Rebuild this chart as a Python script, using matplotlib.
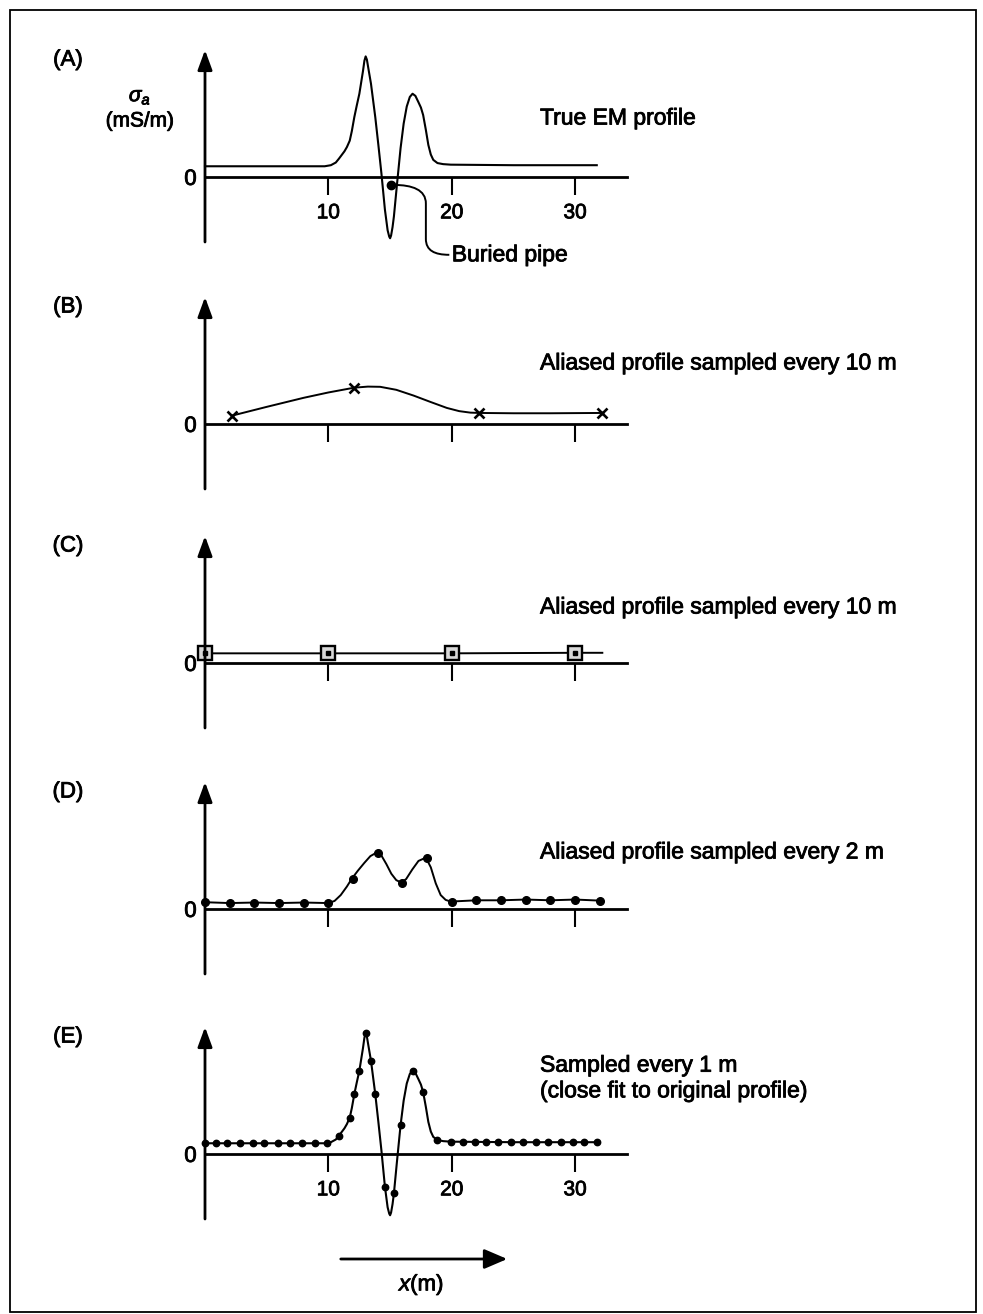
import matplotlib.pyplot as plt
import matplotlib.patheffects as pe
from matplotlib.path import Path
from matplotlib.patches import PathPatch, FancyArrowPatch, Rectangle

plt.rcParams['font.family'] = ['Liberation Sans', 'DejaVu Sans']
plt.rcParams['mathtext.fontset'] = 'custom'
plt.rcParams['mathtext.rm'] = 'Liberation Sans'
plt.rcParams['mathtext.it'] = 'Liberation Sans:italic'

# true EM profile (x in m, sigma_a in arbitrary mS/m units)
true_x = [0, 9.7, 10.2, 10.6, 10.86, 11.3, 11.5, 11.73, 11.9, 12.1, 12.3, 12.51, 12.8, 12.92, 13.02,
          13.12, 13.25, 13.45, 13.8, 14.05, 14.3, 14.58, 14.8, 14.93, 15.0, 15.08, 15.2, 15.31,
          15.55, 15.85, 16.1, 16.35, 16.6, 16.82, 17.05, 17.3, 17.5, 17.68, 17.9, 18.1, 18.3,
          18.5, 18.84, 19.3, 19.92, 25.0, 31.75]
true_y = [1.0, 1.0, 1.1, 1.35, 1.72, 2.4, 2.8, 3.4, 4.3, 5.6, 6.7, 7.8, 9.9, 10.9, 11.3,
          11.0, 10.1, 8.75, 5.6, 3.0, 0.3, -3.06, -5.0, -5.6, -5.75, -5.5, -4.7, -3.7,
          -0.8, 2.7, 5.0, 6.6, 7.5, 7.8, 7.6, 7.0, 6.5, 5.8, 4.4, 3.0, 2.1,
          1.6, 1.3, 1.2, 1.15, 1.1, 1.1]

# (B) samples every 10 m
b_x = [2.2, 12.1, 22.2, 32.2]
b_y = [0.78, 3.4, 1.03, 1.03]
b_curve_x = [2.2, 5.0, 8.0, 10.0, 12.1, 13.2, 14.2, 15.5, 16.9, 18.3, 19.6, 20.6, 21.5, 22.2, 25.0, 28.0, 32.2]
b_curve_y = [0.78, 1.6, 2.45, 2.95, 3.4, 3.5, 3.48, 3.2, 2.66, 2.05, 1.5, 1.2, 1.06, 1.03, 1.0, 1.0, 1.03]

# (C) samples every 10 m, other offset
c_x = [0, 10, 20, 30]
c_y = [0.9, 0.9, 0.9, 0.95]
c_line_x = [0, 10, 20, 30, 32.2]
c_line_y = [0.9, 0.9, 0.9, 0.95, 0.95]

# (D) samples every 2 m
d_x = [0, 2, 4, 6, 8, 10, 12, 14, 16, 18, 20, 22, 24, 26, 28, 30, 32]
d_y = [0.63, 0.55, 0.6, 0.55, 0.6, 0.55, 2.84, 5.28, 2.47, 4.81, 0.69, 0.81, 0.81, 0.88, 0.81, 0.88, 0.78]
d_curve_x = [0, 2, 4, 6, 8, 10, 10.5, 11.0, 11.5, 11.9, 12.4, 12.9, 13.4, 13.9, 14.3, 14.7, 15.1,
             15.5, 15.9, 16.3, 16.8, 17.3, 17.9, 18.3, 18.7, 19.1, 19.5, 19.9, 22, 24, 26, 28, 30, 32]
d_curve_y = [0.63, 0.55, 0.6, 0.55, 0.6, 0.55, 0.75, 1.3, 2.1, 2.84, 3.6, 4.3, 4.95, 5.28, 5.0, 4.2, 3.3,
             2.7, 2.47, 2.8, 3.7, 4.5, 4.81, 3.9, 2.4, 1.3, 0.85, 0.69, 0.81, 0.81, 0.88, 0.81, 0.88, 0.78]

# (E) samples every ~1 m
e_x = [0, 0.9, 1.8, 2.8, 3.9, 4.8, 5.9, 6.9, 7.9, 8.9, 9.9, 10.86, 11.73, 12.1, 12.51, 13.02,
       13.45, 13.8, 14.58, 15.31, 15.85, 16.82, 17.68, 18.84, 19.92, 20.92, 21.86, 22.8, 23.75,
       24.82, 25.77, 26.85, 27.79, 28.87, 29.81, 30.75, 31.75]
e_y = [1.0, 1.0, 1.0, 1.0, 1.0, 1.0, 1.0, 1.0, 1.0, 1.0, 1.0, 1.72, 3.4, 5.6, 7.8, 11.3,
       8.75, 5.6, -3.06, -3.7, 2.7, 7.8, 5.8, 1.3, 1.15, 1.12, 1.1, 1.1, 1.1,
       1.1, 1.1, 1.1, 1.1, 1.1, 1.1, 1.1, 1.1]

pipe_x = 15.1
pipe_y = -0.75

ticks = [10, 20, 30]
panel_labels = ['(A)', '(B)', '(C)', '(D)', '(E)']
captions = ['True EM profile',
            'Aliased profile sampled every 10 m',
            'Aliased profile sampled every 10 m',
            'Aliased profile sampled every 2 m',
            'Sampled every 1 m\n(close fit to original profile)']

W, H = 983, 1314
fig = plt.figure(figsize=(W / 100, H / 100), dpi=100)

X0, XW = 205, 422
YTOP, YBOT = 127, 65
XMAX, YMAX, YMIN = 34.2, 11.9, -6.1
zeros = [177, 424, 663, 909, 1154]
cap_y = [118, 363, 607, 852, 1078]

bold = [pe.withStroke(linewidth=0.6, foreground='black')]


def make_axes(z, labels):
    ax = fig.add_axes([X0 / W, 1 - (z + YBOT) / H, XW / W, (YTOP + YBOT) / H])
    ax.set_xlim(0, XMAX)
    ax.set_ylim(YMIN, YMAX)
    ax.patch.set_visible(False)
    for s in ['top', 'right', 'left']:
        ax.spines[s].set_visible(False)
    ax.spines['bottom'].set_position(('data', 0))
    ax.spines['bottom'].set_linewidth(2.0)
    ax.set_xticks(ticks)
    ax.set_xticklabels([str(t) for t in ticks] if labels else [])
    ax.tick_params(axis='x', direction='out', length=13, width=1.5, pad=6, labelsize=15)
    ax.set_yticks([0])
    ax.set_yticklabels(['0'])
    ax.tick_params(axis='y', length=0, pad=6, labelsize=16)
    for t in ax.get_xticklabels() + ax.get_yticklabels():
        t.set_path_effects(bold)
    ax.annotate('', xy=(0, 1), xytext=(0, 0), xycoords='axes fraction',
                arrowprops=dict(arrowstyle='-|>,head_length=0.6,head_width=0.22', lw=2.0,
                                color='black', mutation_scale=20, shrinkA=0, shrinkB=0))
    return ax


axes = [make_axes(z, i in (0, 4)) for i, z in enumerate(zeros)]

# (A) true profile
ax = axes[0]
ax.plot(true_x, true_y, color='black', lw=1.5, clip_on=False)
ax.plot(pipe_x, pipe_y, 'o', color='black', ms=6, clip_on=False)
leader = Path([(pipe_x + 0.2, pipe_y), (16.8, pipe_y), (17.9, -1.2), (17.9, -2.5),
               (17.9, -5.8), (17.9, -6.9), (18.6, -7.3), (19.8, -7.3)],
              [Path.MOVETO, Path.CURVE4, Path.CURVE4, Path.CURVE4,
               Path.LINETO, Path.CURVE4, Path.CURVE4, Path.CURVE4])
ax.add_patch(PathPatch(leader, fill=False, lw=1.4, clip_on=False))
ax.text(20.0, -7.3, 'Buried pipe', fontsize=16.5, va='center', ha='left', clip_on=False,
        path_effects=bold)

# (B)
ax = axes[1]
ax.plot(b_curve_x, b_curve_y, color='black', lw=1.4, clip_on=False)
ax.plot(b_x, b_y, 'x', color='black', ms=7, mew=1.9, clip_on=False)

# (C)
ax = axes[2]
ax.plot(c_line_x, c_line_y, color='black', lw=1.4, clip_on=False)
ax.plot(c_x, c_y, 's', ms=10, mfc='#d8d8d8', mec='black', mew=1.7, clip_on=False)
ax.plot(c_x, c_y, 's', ms=3.5, color='black', clip_on=False)

# (D)
ax = axes[3]
ax.plot(d_curve_x, d_curve_y, color='black', lw=1.4, clip_on=False)
ax.plot(d_x, d_y, 'o', color='black', ms=5.5, clip_on=False)

# (E)
ax = axes[4]
ax.plot(true_x, true_y, color='black', lw=1.5, clip_on=False)
ax.plot(e_x, e_y, 'o', color='black', ms=4.6, clip_on=False)

for z, lab in zip(zeros, panel_labels):
    fig.text(68 / W, 1 - (z - 117) / H, lab, ha='center', va='center', fontsize=16,
             path_effects=bold)
for yc, cap in zip(cap_y, captions):
    fig.text(540 / W, 1 - yc / H, cap, ha='left', va='center', fontsize=16.5, linespacing=1.15,
             path_effects=bold)

fig.text(140 / W, 1 - 97 / H, r'$\sigma_a$', ha='center', va='center', fontsize=15,
         path_effects=bold)
fig.text(140 / W, 1 - 121 / H, '(mS/m)', ha='center', va='center', fontsize=15,
         path_effects=bold)

# x direction arrow
fig.add_artist(FancyArrowPatch((338 / W, 1 - 1259 / H), (510 / W, 1 - 1259 / H),
                               transform=fig.transFigure, arrowstyle='-|>,head_length=0.7,head_width=0.3',
                               mutation_scale=20, lw=2.0, color='black'))
fig.text(422 / W, 1 - 1285 / H, '$x$(m)', ha='center', va='center', fontsize=16, path_effects=bold)

# outer frame
fig.add_artist(Rectangle((10 / W, 2 / H), 966 / W, 1302 / H, transform=fig.transFigure,
                         fill=False, lw=1.3, color='black'))

fig.savefig('out.png', dpi=100)
